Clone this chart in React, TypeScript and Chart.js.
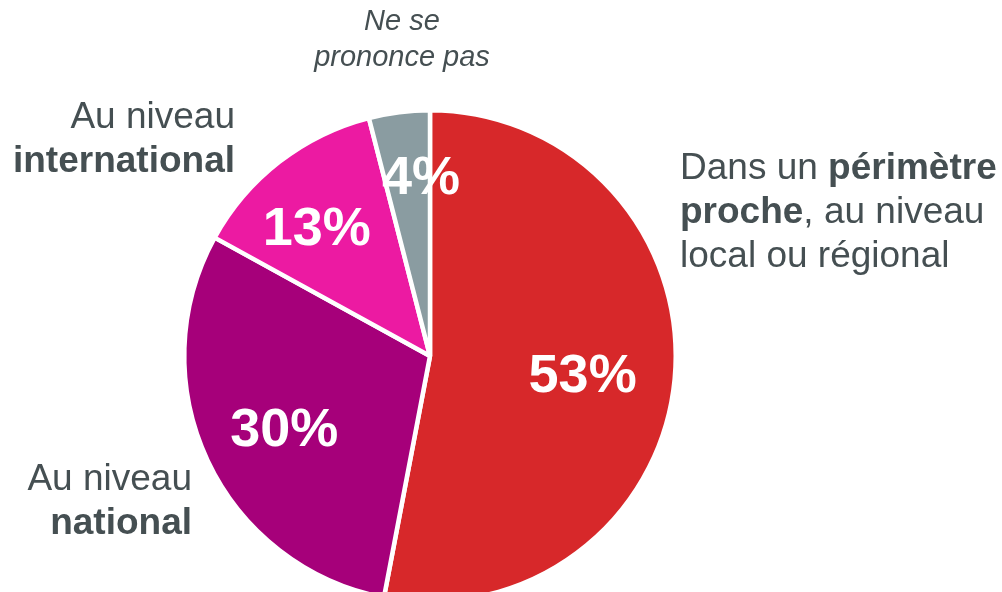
import React, { useEffect, useRef } from "react";
import { Chart, registerables } from "chart.js";

Chart.register(...registerables);

const categories = [
  "Dans un périmètre proche, au niveau local ou régional",
  "Au niveau national",
  "Au niveau international",
  "Ne se prononce pas",
];
const values = [53, 30, 13, 4];
const valueLabels = ["53%", "30%", "13%", "4%"];
const colors = ["#D7282A", "#A6007A", "#EC1AA2", "#8A9CA1"];

const TEXT = "#454F52";
const FONT = "'Liberation Sans', Arial, sans-serif";

// label placement within slices: radial fraction and small angular nudge (degrees)
const LABEL_R = [0.626, 0.663, 0.694, 0.73];
const LABEL_DA = [1.8, -1.4, -3.8, 4.3];

type Run = { t: string; b?: boolean };

function drawRuns(ctx: CanvasRenderingContext2D, runs: Run[], x: number, y: number, align: "left" | "right", size: number) {
  const fonts = runs.map((r) => `${r.b ? "bold " : ""}${size}px ${FONT}`);
  let total = 0;
  const widths = runs.map((r, i) => {
    ctx.font = fonts[i];
    const w = ctx.measureText(r.t).width;
    total += w;
    return w;
  });
  let cx = align === "left" ? x : x - total;
  ctx.textAlign = "left";
  runs.forEach((r, i) => {
    ctx.font = fonts[i];
    ctx.fillText(r.t, cx, y);
    cx += widths[i];
  });
}

const labelsPlugin = {
  id: "customLabels",
  afterDatasetsDraw(chart: any) {
    const ctx: CanvasRenderingContext2D = chart.ctx;
    const meta = chart.getDatasetMeta(0);
    ctx.save();
    ctx.textBaseline = "middle";
    ctx.fillStyle = "#FFFFFF";
    ctx.font = `bold 54px ${FONT}`;
    ctx.textAlign = "center";
    meta.data.forEach((arc: any, i: number) => {
      const { x, y, startAngle, endAngle, outerRadius } = arc.getProps(
        ["x", "y", "startAngle", "endAngle", "outerRadius"],
        true
      );
      const mid = (startAngle + endAngle) / 2 + (LABEL_DA[i] * Math.PI) / 180;
      const r = outerRadius * LABEL_R[i];
      ctx.fillText(valueLabels[i], x + Math.cos(mid) * r, y + Math.sin(mid) * r + 2);
    });

    ctx.textBaseline = "alphabetic";
    ctx.fillStyle = TEXT;
    const S = 37;
    drawRuns(ctx, [{ t: "Dans un " }, { t: "périmètre", b: true }], 680, 179, "left", S);
    drawRuns(ctx, [{ t: "proche", b: true }, { t: ", au niveau" }], 680, 223, "left", S);
    drawRuns(ctx, [{ t: "local ou régional" }], 680, 267, "left", S);

    drawRuns(ctx, [{ t: "Au niveau" }], 235, 128, "right", S);
    drawRuns(ctx, [{ t: "international", b: true }], 235, 172, "right", S);

    drawRuns(ctx, [{ t: "Au niveau" }], 192, 490, "right", S);
    drawRuns(ctx, [{ t: "national", b: true }], 192, 534, "right", S);

    ctx.font = `italic 29px ${FONT}`;
    ctx.textAlign = "center";
    ctx.fillText("Ne se", 402, 30);
    ctx.fillText("prononce pas", 402, 66);
    ctx.restore();
  },
};

export default function App() {
  const ref = useRef<HTMLCanvasElement | null>(null);
  useEffect(() => {
    if (!ref.current) return;
    const chart = new Chart(ref.current, {
      type: "pie",
      data: {
        labels: categories,
        datasets: [
          {
            data: values,
            backgroundColor: colors,
            borderColor: "#FFFFFF",
            borderWidth: 4.5,
          },
        ],
      },
      options: {
        responsive: false,
        animation: false,
        layout: { padding: { left: 182, top: 108, right: 324, bottom: 16 } },
        plugins: { legend: { display: false }, tooltip: { enabled: false } },
      },
      plugins: [labelsPlugin],
    });
    return () => chart.destroy();
  }, []);
  return (
    <div style={{ position: "absolute", left: 0, top: 0, width: 1002, height: 592, overflow: "hidden", background: "#fff" }}>
      <canvas ref={ref} width={1002} height={620} style={{ width: 1002, height: 620, display: "block" }} />
    </div>
  );
}
